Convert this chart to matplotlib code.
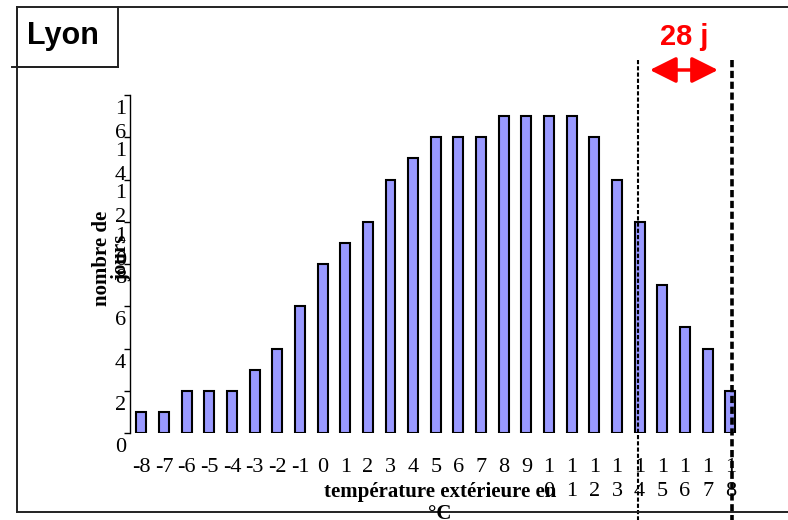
"""Histogramme : nombre de jours par température extérieure (Lyon)"""

import matplotlib
matplotlib.use("Agg")
import matplotlib.pyplot as plt
from matplotlib.lines import Line2D
from matplotlib.patches import Rectangle, FancyArrowPatch
from matplotlib.transforms import blended_transform_factory, ScaledTranslation

# données
temperatures = list(range(-8, 19))
jours = [1, 1, 2, 2, 2, 3, 4, 6, 8, 9, 10, 12, 13, 14, 14, 14,
         15, 15, 15, 15, 14, 12, 10, 7, 5, 4, 2]
y_ticks = [0, 2, 4, 6, 8, 10, 12, 14, 16]
plage_debut, plage_fin = 14, 18
plage_label = "28 j"
ville = "Lyon"

SERIF = "Liberation Serif"
SANS = "Liberation Sans"
W, H = 788, 520


def fx(px):
    return px / W


def fy(py):
    return 1 - py / H


def wrap(v):
    # les nombres à deux chiffres sont coupés sur deux lignes
    s = str(v)
    if len(s) == 2 and s[0] != "-":
        return s[0] + "\n" + s[1]
    return s


fig = plt.figure(figsize=(W / 100, H / 100), dpi=100, facecolor="white")
ax = fig.add_axes([fx(130), fy(433), fx(741.6) - fx(130), fy(95) - fy(433)])

ax.bar(temperatures, jours, width=0.44, color="#9999FF",
       edgecolor="black", linewidth=1.5, zorder=2)

ax.set_xlim(temperatures[0] - 0.5, temperatures[-1] + 0.5)
ax.set_ylim(y_ticks[0], y_ticks[-1])

for side in ("top", "right", "bottom"):
    ax.spines[side].set_visible(False)
ax.spines["left"].set_linewidth(1.0)

ax.set_yticks(y_ticks)
ax.set_yticklabels([wrap(v) for v in y_ticks], fontfamily=SERIF, fontsize=16,
                   va="top", linespacing=1.35)
ax.tick_params(axis="y", direction="out", length=4, width=1.0, pad=-1)
decal = ScaledTranslation(0, -0.05, fig.dpi_scale_trans)
for lab in ax.get_yticklabels():
    lab.set_transform(lab.get_transform() + decal)

ax.set_xticks(temperatures)
ax.set_xticklabels([wrap(v) for v in temperatures], fontfamily=SERIF,
                   fontsize=16, linespacing=1.35)
ax.tick_params(axis="x", length=0, pad=18)

fig.text(fx(112), fy(258), "nombre de\njours", rotation=90, ha="center",
         va="center", fontfamily=SERIF, fontsize=15, fontweight="bold",
         linespacing=0.95)
fig.text(fx(440), fy(503), "température extérieure en\n°C", ha="center",
         va="center", fontfamily=SERIF, fontsize=15, fontweight="bold",
         linespacing=1.1)

# lignes pointillées délimitant la plage
trans = blended_transform_factory(ax.transData, ax.transAxes)
ax.plot([plage_debut - 0.08] * 2, [1.104, -0.3], transform=trans,
        color="black", lw=1.5, ls=(0, (2, 1)), clip_on=False, zorder=3)
ax.plot([plage_fin + 0.08] * 2, [1.104, -0.3], transform=trans,
        color="black", lw=2.6, ls=(0, (2, 1)), clip_on=False, zorder=3)

# flèche rouge et étiquette
x0, x1 = plage_debut + 0.33, plage_fin - 0.42
arrow = FancyArrowPatch((x0, 1.074), (x1, 1.074), transform=trans,
                        arrowstyle="<|-|>,head_length=10,head_width=5",
                        color="#FF0000", lw=2.5, clip_on=False,
                        mutation_scale=1.6)
ax.add_patch(arrow)
ax.text((x0 + x1) / 2, 1.172, plage_label, transform=trans, ha="center",
        va="center", color="#FF0000", fontfamily=SANS, fontsize=21,
        fontweight="bold", clip_on=False)

# cadre de la diapositive
frame_kw = dict(color="#222222", lw=1.4, transform=fig.transFigure)
fig.add_artist(Line2D([fx(118), fx(788)], [fy(7), fy(7)], **frame_kw))
fig.add_artist(Line2D([fx(17), fx(17)], [fy(7), fy(512)], **frame_kw))
fig.add_artist(Line2D([fx(17), fx(788)], [fy(512), fy(512)], **frame_kw))
fig.add_artist(Line2D([fx(12), fx(118)], [fy(67), fy(67)], **frame_kw))
fig.add_artist(Rectangle((fx(17), fy(67)), fx(118) - fx(17), fy(7) - fy(67),
                         fill=False, edgecolor="#222222", lw=1.4,
                         transform=fig.transFigure))
fig.text(fx(63), fy(36), ville, ha="center", va="center", fontfamily=SANS,
         fontsize=22, fontweight="bold")

fig.savefig("out.png", dpi=100, facecolor="white")
